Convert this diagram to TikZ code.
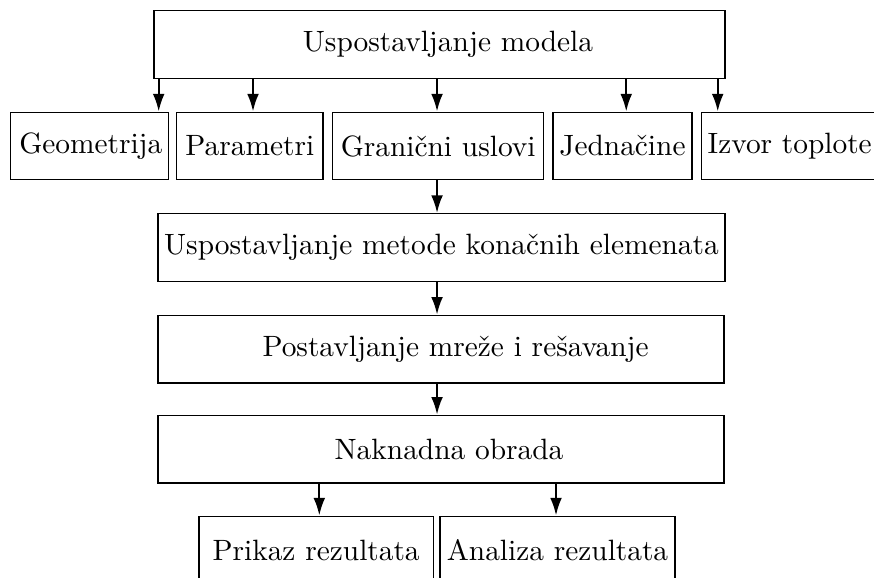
\documentclass[tikz,border=0pt]{standalone}
\usepackage{amsmath,amssymb}
\usepackage{tikz}
\usetikzlibrary{arrows.meta}
\tikzset{kutija/.style={draw, inner sep=2pt, minimum height=0.81cm},
         strel/.style={line width=0.75pt, -{Latex[length=6pt,width=4pt]}}}

\begin{document}
\begin{tikzpicture}
     \clip (0,0) rectangle (10.453,-6.901);
     \node[kutija, minimum width=6.83cm] (model) at (5.256,-0.532) {\hspace*{5.8pt}Uspostavljanje modela};
     \node[kutija, minimum width=1.857cm] (geo) at (1.069,-1.746) {\hspace*{1pt}Geometrija};
     \node[kutija, minimum width=1.750cm] (par) at (2.988,-1.746) {Parametri};
     \node[kutija, minimum width=2.524cm] (gran) at (5.241,-1.746) {Granični uslovi};
     \node[kutija, minimum width=1.662cm] (jed) at (7.445,-1.746) {Jednačine};
     \node[kutija, minimum width=2.113cm] (izv) at (9.445,-1.746) {Izvor toplote};
     \node[kutija, minimum width=6.781cm] (mke) at (5.280,-2.960) {Uspostavljanje metode konačnih elemenata};
     \node[kutija, minimum width=6.770cm] (mreza) at (5.274,-4.176) {\hspace*{10pt}Postavljanje mreže i rešavanje};
     \node[kutija, minimum width=6.770cm] (obrada) at (5.274,-5.372) {\hspace*{5.5pt}Naknadna obrada};
     \node[kutija, minimum width=2.802cm] (prikaz) at (3.781,-6.578) {Prikaz rezultata};
     \node[kutija, minimum width=2.811cm] (analiza) at (6.668,-6.578) {Analiza rezultata};
     \coordinate (s1) at (1.898,0);
     \coordinate (s2) at (3.026,0);
     \coordinate (s3) at (5.227,0);
     \coordinate (s4) at (7.490,0);
     \coordinate (s5) at (8.584,0);
     \coordinate (s6) at (3.819,0);
     \coordinate (s7) at (6.650,0);
     \draw[strel] (s1 |- model.south) -- (s1 |- geo.north);
     \draw[strel] (s2 |- model.south) -- (s2 |- par.north);
     \draw[strel] (s3 |- model.south) -- (s3 |- gran.north);
     \draw[strel] (s4 |- model.south) -- (s4 |- jed.north);
     \draw[strel] (s5 |- model.south) -- (s5 |- izv.north);
     \draw[strel] (s3 |- gran.south) -- (s3 |- mke.north);
     \draw[strel] (s3 |- mke.south) -- (s3 |- mreza.north);
     \draw[strel] (s3 |- mreza.south) -- (s3 |- obrada.north);
     \draw[strel] (s6 |- obrada.south) -- (s6 |- prikaz.north);
     \draw[strel] (s7 |- obrada.south) -- (s7 |- analiza.north);
\end{tikzpicture}
\end{document}
